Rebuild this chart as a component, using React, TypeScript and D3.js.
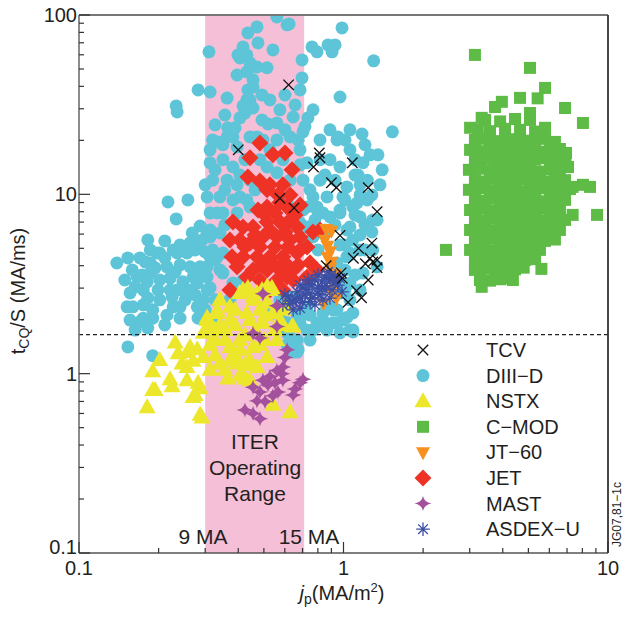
import * as d3 from 'd3'

type Pt = [number, number]

// TCV (black crosses)
const tcv: Pt[] = [
  [0.62, 40.8], [0.4, 17.7], [0.81, 17.0], [0.815, 16.0], [0.77, 14.2], [1.08, 15.0],
  [0.9, 11.6], [0.94, 10.9], [1.24, 10.9], [1.34, 8.0], [0.575, 9.5], [0.65, 8.4],
  [0.97, 5.9], [0.86, 4.0], [0.98, 3.65], [0.99, 3.4], [1.14, 5.0], [1.09, 4.4],
  [1.28, 5.35], [1.26, 4.4], [1.29, 4.2], [1.21, 4.1], [1.34, 3.9], [1.34, 4.3],
  [1.24, 3.33], [1.12, 2.9], [1.17, 2.65], [1.04, 2.5],
]

// DIII-D (cyan circles)
const diiid: Pt[] = [
  // upper sparse part
  [0.31, 62.3], [0.282, 38.2], [0.313, 37.2], [0.233, 31.1], [0.363, 34.4], [0.365, 23.5],
  [0.406, 26.7], [0.431, 33.6], [0.455, 39.7], [0.431, 48.2], [0.396, 46.3], [0.406, 57.6],
  [0.435, 79.4], [0.471, 85.8], [0.475, 69.9], [0.541, 63.9], [0.612, 88.1], [0.697, 56.2],
  [0.697, 44.6], [0.645, 27.0], [0.514, 50.8], [0.471, 51.3], [0.56, 25.0], [0.471, 20.9],
  [0.382, 20.9], [0.335, 19.6], [0.372, 22.3], [0.455, 30.3], [0.76, 66.4], [0.767, 29.6],
  [0.715, 23.9], [0.443, 54.1], [0.417, 31.1], [0.518, 24.7], [0.794, 62.3], [0.874, 68.1],
  [0.929, 68.1], [0.905, 62.3], [0.987, 84.7], [1.3, 55.5], [0.97, 34.9], [0.734, 26.7],
  [0.953, 20.9], [1.013, 20.1], [1.175, 21.7], [1.53, 22.3], [1.26, 16.6], [1.35, 16.6],
  [1.185, 15.0], [1.23, 12.0], [0.674, 20.1], [0.703, 22.3], [0.56, 97.6], [0.417, 66.4],
  [0.623, 89.2], [0.431, 59.9], [0.399, 59.9], [0.455, 43.5], [0.435, 38.2], [0.443, 33.6],
  [0.424, 28.4], [0.235, 28.8],
  [0.327, 24.4], [0.356, 27.7], [0.389, 23.5], [0.492, 26.0], [0.601, 22.9], [0.656, 31.5],
  [0.575, 29.6], [0.527, 33.6], [0.492, 35.8], [0.601, 35.8], [0.685, 38.2], [0.35, 18.9],
  [0.313, 17.7],
  // left cloud
  [0.217, 9.07], [0.258, 9.31], [0.233, 7.29], [0.287, 6.66], [0.268, 6.09], [0.182, 5.57],
  [0.211, 5.5], [0.139, 4.14], [0.159, 3.79], [0.197, 4.71], [0.227, 4.9], [0.256, 4.71],
  [0.275, 4.9], [0.287, 5.43], [0.173, 3.55], [0.186, 3.64], [0.215, 3.94], [0.241, 4.04],
  [0.263, 3.94], [0.221, 3.41], [0.247, 3.25], [0.28, 3.2], [0.156, 2.82], [0.175, 2.93],
  [0.199, 2.93], [0.225, 2.68], [0.256, 2.82], [0.152, 2.36], [0.175, 2.42], [0.19, 2.27],
  [0.215, 2.12], [0.227, 2.36], [0.156, 1.99], [0.175, 2.04], [0.28, 2.36], [0.282, 2.04],
  [0.153, 1.41], [0.19, 1.26], [0.295, 2.58], [0.305, 3.46], [0.305, 2.93], [0.327, 4.31],
  [0.305, 6.09], [0.333, 7.88], [0.292, 5.57], [0.247, 2.93], [0.202, 3.33], [0.166, 3.46],
  [0.181, 3.25], [0.17, 1.95], [0.19, 2.04], [0.241, 2.36], [0.313, 4.47], [0.287, 3.94],
  [0.263, 2.93], [0.235, 2.93], [0.186, 4.14], [0.235, 4.71], [0.202, 4.71], [0.16, 2.36],
  [0.153, 4.42], [0.17, 4.42], [0.186, 4.9], [0.211, 4.42], [0.241, 5.22], [0.263, 5.36],
  [0.3, 4.77], [0.149, 3.33], [0.163, 3.05], [0.182, 2.64], [0.202, 2.58], [0.221, 2.93],
  [0.252, 2.58], [0.275, 2.75], [0.3, 2.27], [0.211, 1.87], [0.241, 2.04], [0.182, 1.8],
  [0.163, 1.75], [0.287, 3.55], [0.231, 3.69], [0.194, 3.89], [0.178, 4.2], [0.27, 3.46],
  [0.313, 3.01], [0.327, 1.99],
  // centre, behind JET
  [0.32, 20.1], [0.363, 20.9], [0.396, 18.4], [0.313, 15.0], [0.35, 15.6], [0.382, 14.2],
  [0.32, 12.0], [0.363, 12.0], [0.396, 11.3], [0.305, 9.67], [0.341, 9.67], [0.382, 9.31],
  [0.431, 9.31], [0.313, 7.88], [0.35, 7.88], [0.396, 7.88], [0.313, 6.33], [0.341, 6.09],
  [0.32, 4.9], [0.35, 4.71], [0.305, 3.94], [0.35, 3.64], [0.443, 20.9], [0.496, 20.1],
  [0.56, 20.1], [0.628, 20.9], [0.514, 14.2], [0.56, 13.2], [0.406, 9.67], [0.685, 17.7],
  [0.728, 15.0], [0.703, 12.0], [0.747, 10.6], [0.767, 9.67], [0.728, 8.51], [0.794, 8.51],
  [0.866, 9.67], [0.836, 7.88], [0.889, 7.48], [0.97, 7.88], [0.995, 9.67], [1.03, 11.0],
  [0.945, 20.1], [0.97, 14.2], [0.815, 12.0], [0.685, 6.93], [0.747, 6.58], [0.945, 4.14],
  [0.794, 3.79], [0.313, 5.79], [0.333, 4.47], [0.341, 3.79], [0.382, 3.2], [0.417, 3.33],
  [0.443, 8.51], [0.612, 8.95], [0.703, 8.18], [0.728, 6.58], [0.767, 5.79], [0.443, 12.0],
  [0.483, 15.6], [0.59, 15.6], [0.685, 14.6], [0.628, 12.0], [0.815, 15.6], [0.889, 15.6],
  [0.851, 12.8], [0.929, 12.0], [0.356, 6.75], [0.327, 2.58], [0.372, 2.58],
  [0.327, 13.7], [0.356, 10.6], [0.406, 12.8], [0.463, 10.6], [0.424, 15.6], [0.527, 17.7],
  [0.3, 11.3],
  // right wing and below the dashed line
  [0.794, 8.18], [0.97, 8.18], [1.125, 8.95], [1.155, 7.48], [1.29, 7.2], [1.34, 3.94],
  [1.03, 6.33], [1.085, 5.57], [1.058, 4.71], [0.97, 3.2], [1.058, 2.58], [1.085, 2.18],
  [1.058, 1.75], [0.945, 1.92], [0.836, 1.99], [0.945, 2.27], [0.889, 2.36], [0.747, 2.12],
  [0.668, 2.12], [0.575, 2.12], [0.541, 2.18], [0.728, 1.75], [0.866, 1.75], [0.97, 1.69],
  [0.668, 1.54], [0.645, 1.32], [1.085, 8.51], [1.23, 9.31], [1.34, 7.2], [1.058, 6.58],
  [1.03, 4.48], [1.185, 3.64], [1.058, 3.2], [0.97, 2.82], [1.03, 2.06], [1.085, 1.75],
  [0.913, 1.92], [0.794, 1.92], [0.685, 2.06], [0.612, 1.92], [0.674, 1.36], [0.866, 2.36],
  [0.612, 1.45], [0.668, 1.32], [0.747, 1.54], [0.612, 1.69], [0.685, 1.92], [0.575, 2.58],
  [0.645, 2.68], [0.728, 2.36], [0.836, 2.18], [0.794, 1.83], [1.085, 1.71], [0.995, 1.99],
  [0.913, 2.27], [0.767, 1.75], [0.628, 1.6], [1.28, 9.93], [1.155, 9.93], [1.374, 11.3],
  [1.155, 11.3], [1.4, 13.7], [1.135, 12.8], [1.206, 18.9], [1.058, 17.7], [1.105, 15.6],
  [1.28, 6.17], [1.155, 5.94], [1.206, 4.9], [1.29, 4.9], [0.97, 5.22], [1.058, 4.59],
  [1.013, 3.79], [1.105, 3.55], [1.155, 2.93], [1.013, 2.93],
  [0.815, 20.1], [0.889, 22.9], [1.058, 22.9], [1.105, 12.8], [1.013, 9.31], [1.105, 7.68],
  [1.206, 6.75], [0.851, 6.33], [0.78, 7.2], [0.929, 6.75], [1.013, 5.22], [1.155, 4.9],
  [0.715, 5.22], [0.801, 4.9],
]

// NSTX (yellow triangles)
const nstx: Pt[] = [
  [0.231, 1.49], [0.202, 1.19], [0.19, 1.03], [0.19, 0.81], [0.181, 0.65], [0.221, 0.93],
  [0.225, 0.85], [0.245, 1.14], [0.27, 1.18], [0.256, 0.92], [0.282, 0.89], [0.27, 0.74],
  [0.287, 0.83], [0.292, 0.57], [0.258, 1.32], [0.256, 1.09], [0.295, 1.24], [0.263, 1.41],
  [0.237, 1.3], [0.28, 1.37], [0.194, 0.81], [0.275, 0.76], [0.287, 0.59], [0.541, 0.67],
  [0.628, 0.61], [0.639, 1.84],
  [0.406, 2.82], [0.372, 2.36], [0.333, 2.25], [0.305, 1.99], [0.295, 1.69], [0.308, 1.8],
  [0.333, 2.18], [0.396, 1.14], [0.341, 1.14], [0.471, 1.09], [0.514, 1.24], [0.56, 1.54],
  [0.455, 1.41], [0.372, 1.41], [0.496, 1.92], [0.431, 2.18], [0.541, 2.18], [0.514, 2.49],
  [0.471, 2.82], [0.536, 3.01], [0.455, 2.68], [0.417, 2.93], [0.514, 3.05], [0.541, 2.93],
  [0.645, 1.83], [0.305, 2.06], [0.327, 1.54], [0.356, 1.75], [0.389, 1.87], [0.424, 1.64],
  [0.463, 1.75], [0.327, 1.27], [0.356, 1.05], [0.406, 0.98], [0.443, 0.92], [0.313, 1.05],
  [0.483, 2.27], [0.59, 2.27], [0.59, 1.87], [0.406, 1.54], [0.372, 1.99], [0.341, 1.87],
  [0.505, 1.54], [0.443, 1.19], [0.389, 1.27], [0.313, 1.45], [0.424, 0.94], [0.365, 0.94],
  [0.356, 1.54], [0.406, 1.36], [0.483, 1.45], [0.443, 1.99], [0.389, 2.27], [0.341, 2.58],
  [0.505, 2.12], [0.575, 1.99], [0.551, 1.75], [0.424, 1.12], [0.372, 1.19], [0.327, 1.75],
  [0.463, 2.58], [0.601, 2.42], [0.492, 2.93], [0.435, 3.01],
]

// C-MOD (green squares)
const cmod: Pt[] = [
  [3.43, 26.0], [3.91, 25.5], [4.45, 26.3], [5.07, 26.0],
  [3.22, 22.9], [3.58, 22.5], [4.08, 23.2], [4.65, 22.9], [5.3, 22.4],
  [3.14, 20.1], [3.43, 20.4], [3.74, 19.8], [4.08, 20.1], [4.45, 20.3], [4.86, 19.9], [5.3, 20.1], [5.78, 20.4], [6.3, 19.6],
  [3.01, 17.7], [3.28, 17.4], [3.58, 17.9], [3.91, 17.7], [4.26, 17.5], [4.65, 17.8], [5.07, 17.7], [5.53, 17.3], [6.04, 17.7], [6.58, 17.9],
  [3.14, 15.6], [3.43, 15.8], [3.74, 15.4], [4.08, 15.6], [4.45, 15.7], [4.86, 15.5], [5.3, 15.6], [5.78, 15.9], [6.3, 15.4], [6.88, 15.6],
  [2.98, 13.7], [3.28, 13.9], [3.58, 13.6], [3.91, 13.7], [4.26, 13.5], [4.65, 13.8], [5.07, 13.7], [5.53, 13.4], [6.04, 13.8], [6.58, 13.7],
  [3.14, 12.0], [3.43, 11.8], [3.74, 12.2], [4.08, 12.0], [4.45, 11.9], [4.86, 12.1], [5.3, 12.0], [5.78, 11.8], [6.3, 12.1], [6.88, 12.0],
  [2.98, 10.6], [3.28, 10.8], [3.58, 10.5], [3.91, 10.6], [4.26, 10.7], [4.65, 10.4], [5.07, 10.6], [5.53, 10.8], [6.04, 10.5], [6.58, 10.6], [7.18, 10.7],
  [3.14, 9.31], [3.43, 9.2], [3.74, 9.45], [4.08, 9.31], [4.45, 9.2], [4.86, 9.4], [5.3, 9.31], [5.78, 9.15], [6.3, 9.4], [6.88, 9.31],
  [3.01, 8.18], [3.28, 8.3], [3.58, 8.1], [3.91, 8.18], [4.26, 8.25], [4.65, 8.1], [5.07, 8.18], [5.53, 8.3], [6.04, 8.1], [6.58, 8.18],
  [3.14, 7.2], [3.43, 7.1], [3.74, 7.3], [4.08, 7.2], [4.45, 7.1], [4.86, 7.25], [5.3, 7.2], [5.78, 7.1], [6.3, 7.3], [6.88, 7.2],
  [3.01, 6.33], [3.28, 6.4], [3.58, 6.25], [3.91, 6.33], [4.26, 6.4], [4.65, 6.25], [5.07, 6.33], [5.53, 6.4], [6.04, 6.3], [6.58, 6.33],
  [3.14, 5.57], [3.43, 5.5], [3.74, 5.65], [4.08, 5.57], [4.45, 5.5], [4.86, 5.6], [5.3, 5.57], [5.78, 5.5], [6.3, 5.6],
  [3.01, 4.9], [3.28, 4.95], [3.58, 4.85], [3.91, 4.9], [4.26, 4.95], [4.65, 4.85], [5.07, 4.9], [5.53, 4.9],
  [3.14, 4.31], [3.43, 4.25], [3.74, 4.35], [4.08, 4.31], [4.45, 4.25], [4.86, 4.31], [5.3, 4.35],
  [3.14, 3.79], [3.43, 3.85], [3.74, 3.75], [4.08, 3.79], [4.45, 3.82], [4.8, 3.9],
  [3.28, 3.33], [3.58, 3.3], [3.91, 3.36], [4.2, 3.4],
  // outliers
  [3.14, 59.9], [5.07, 50.7], [5.78, 39.2], [4.65, 34.5], [5.42, 34.3], [3.97, 32.8],
  [3.74, 30.7], [5.07, 28.4], [6.88, 30.3], [8.04, 25.0], [3.33, 26.7], [3.01, 23.5],
  [5.78, 23.5], [6.14, 18.4], [6.94, 17.0], [7.06, 14.2], [8.04, 11.3], [8.55, 11.0],
  [9.09, 7.68], [7.35, 7.68], [2.44, 4.9], [5.6, 3.84], [5.14, 4.48], [4.37, 3.33],
  [3.33, 3.05], [7.35, 11.0], [6.9, 14.6],
]

// JT-60 (orange down triangles)
const jt60: Pt[] = [
  [0.86, 6.4], [0.9, 6.25], [0.85, 5.57], [0.87, 5.15], [0.89, 4.8], [0.87, 4.47],
  [0.9, 4.2], [0.89, 3.89], [0.93, 3.6], [0.91, 3.25], [0.9, 2.86], [0.94, 2.64], [0.84, 2.46],
]

// JET (red diamonds)
const jet: Pt[] = [
  [0.483, 19.3], [0.443, 16.0], [0.541, 16.6], [0.601, 17.0], [0.639, 13.7], [0.435, 12.5],
  [0.483, 11.85], [0.527, 11.3], [0.59, 11.3], [0.565, 9.93], [0.628, 9.93], [0.514, 10.6],
  [0.475, 8.18], [0.514, 8.5], [0.575, 9.0], [0.612, 8.5], [0.382, 7.0], [0.417, 6.58],
  [0.455, 6.58], [0.514, 7.0], [0.575, 7.0], [0.612, 6.93], [0.668, 6.58], [0.372, 5.57],
  [0.406, 5.57], [0.443, 5.36], [0.496, 5.79], [0.56, 5.79], [0.628, 5.57], [0.685, 5.79],
  [0.767, 6.17], [0.815, 6.33], [0.379, 4.48], [0.417, 4.48], [0.471, 4.48], [0.527, 4.48],
  [0.59, 4.48], [0.668, 4.71], [0.728, 5.09], [0.685, 4.9], [0.396, 3.94], [0.455, 3.79],
  [0.514, 3.79], [0.575, 3.79], [0.645, 3.79], [0.747, 4.15], [0.794, 3.79], [0.728, 3.46],
  [0.431, 3.46], [0.483, 3.33], [0.56, 3.33], [0.645, 3.33], [0.612, 3.46], [0.372, 2.93],
  [0.424, 5.09], [0.483, 5.09], [0.551, 5.09], [0.617, 5.09], [0.492, 4.04], [0.536, 4.15],
  [0.601, 4.15], [0.674, 4.04], [0.527, 2.93], [0.59, 2.93], [0.505, 7.68], [0.551, 7.88],
  [0.463, 5.94], [0.527, 6.33], [0.601, 6.17], [0.656, 7.68], [0.685, 8.73],
]

// MAST (purple four-point stars)
const mast: Pt[] = [
  [0.496, 2.79], [0.56, 2.39], [0.455, 1.68], [0.483, 1.58], [0.612, 1.36], [0.601, 1.23],
  [0.59, 1.09], [0.56, 1.04], [0.527, 0.965], [0.496, 0.92], [0.551, 0.89], [0.59, 0.92],
  [0.703, 0.93], [0.518, 0.865], [0.455, 0.84], [0.483, 0.79], [0.656, 0.82], [0.541, 0.752],
  [0.645, 0.761], [0.471, 0.705], [0.505, 0.7], [0.565, 0.79], [0.424, 0.628], [0.455, 0.6],
  [0.483, 0.56], [0.56, 1.83], [0.685, 0.89], [0.585, 1.0],
]

// ASDEX-U (blue asterisks)
const asdex: Pt[] = [
  [0.59, 2.42], [0.628, 2.46], [0.617, 2.68], [0.656, 2.58], [0.685, 2.64], [0.668, 2.86],
  [0.715, 2.75], [0.747, 2.81], [0.703, 3.01], [0.76, 3.12], [0.801, 3.01], [0.78, 3.33],
  [0.829, 3.25], [0.851, 3.46], [0.889, 3.33], [0.874, 3.7], [0.929, 3.5], [0.815, 2.75],
  [0.851, 2.93], [0.905, 2.93], [0.953, 3.12], [0.685, 2.32], [0.747, 2.52], [0.645, 2.27],
  [0.97, 3.4], [0.601, 2.75], [0.734, 3.33], [0.801, 3.55], [0.685, 3.12], [0.889, 2.64],
  [0.78, 2.42], [0.987, 2.86], [0.836, 2.58], [0.72, 2.95], [0.76, 2.65], [0.8, 2.8],
  [0.86, 3.1], [0.92, 3.2], [0.7, 2.5], [0.74, 3.15], [0.83, 3.0], [0.9, 3.55], [0.64, 2.55],
]

const legendNames = ['TCV', 'DIII−D', 'NSTX', 'C−MOD', 'JT−60', 'JET', 'MAST', 'ASDEX−U']
const iterBand: [number, number] = [0.3, 0.71]
const threshold = 1.65
const xTickLabels = ['0.1', '1', '10']
const yTickLabels = ['0.1', '1', '10', '100']

const COL = {
  tcv: '#111',
  diiid: '#5ec5d8',
  nstx: '#ece72a',
  cmod: '#5dbb46',
  jt60: '#f7901e',
  jet: '#ee3326',
  mast: '#a4519d',
  asdex: '#3b4ea3',
}

const tri = (w: number, h: number) => `M0,${-h * 0.6}L${w / 2},${h * 0.4}L${-w / 2},${h * 0.4}Z`
const triDown = (w: number, h: number) => `M0,${h * 0.6}L${w / 2},${-h * 0.4}L${-w / 2},${-h * 0.4}Z`
const diamond = (s: number) => `M0,${-s}L${s},0L0,${s}L${-s},0Z`
const square = (s: number) => `M${-s / 2},${-s / 2}h${s}v${s}h${-s}Z`
const star4 = (rx: number, ry: number) => {
  const k = Math.min(rx, ry) * 0.16
  return `M0,${-ry}Q${k},${-k} ${rx},0Q${k},${k} 0,${ry}Q${-k},${k} ${-rx},0Q${-k},${-k} 0,${-ry}Z`
}
const cross = (s: number) => `M${-s},${-s}L${s},${s}M${s},${-s}L${-s},${s}`
const asterisk = (s: number) => {
  const d = s * 0.707
  return `M0,${-s}V${s}M${-s},0H${s}M${-d},${-d}L${d},${d}M${d},${-d}L${-d},${d}`
}

type MarkStyle = { d: string; fill: string; stroke: string; sw: number }

const marks: MarkStyle[] = [
  { d: cross(5.2), fill: 'none', stroke: COL.tcv, sw: 1.3 },
  { d: 'M-6.5,0a6.5,6.5 0 1,0 13,0a6.5,6.5 0 1,0 -13,0Z', fill: COL.diiid, stroke: 'none', sw: 0 },
  { d: tri(17, 15), fill: COL.nstx, stroke: 'none', sw: 0 },
  { d: square(12), fill: COL.cmod, stroke: 'none', sw: 0 },
  { d: triDown(14, 13), fill: COL.jt60, stroke: 'none', sw: 0 },
  { d: diamond(8.5), fill: COL.jet, stroke: 'none', sw: 0 },
  { d: star4(8.5, 7.5), fill: COL.mast, stroke: 'none', sw: 0 },
  { d: asterisk(6.8), fill: 'none', stroke: COL.asdex, sw: 1.3 },
]

const FONT = '"Liberation Sans", Arial, Helvetica, sans-serif'
const TXT = '#231f20'

export default function App() {
  const W = 623
  const H = 617
  const x = d3.scaleLog().domain([0.1, 10]).range([79, 608])
  const y = d3.scaleLog().domain([0.1, 100]).range([553, 15])
  const [x0, x1] = x.range()
  const [y0, y1] = y.range()

  const xMinor = x.ticks().filter((v) => !xTickLabels.includes(String(v)))
  const yMinor = y.ticks().filter((v) => !yTickLabels.includes(String(v)))

  // draw order: DIII-D, C-MOD, JET, NSTX, JT-60, ASDEX-U, MAST, TCV
  const layers: [Pt[], MarkStyle][] = [
    [diiid, marks[1]],
    [cmod, marks[3]],
    [jet, marks[5]],
    [nstx, marks[2]],
    [jt60, marks[4]],
    [asdex, marks[7]],
    [mast, marks[6]],
    [tcv, marks[0]],
  ]

  const legX = 423
  const legTextX = 486
  const legY0 = 350
  const legDy = 25.6

  return (
    <svg
      width={W}
      height={H}
      style={{ position: 'absolute', left: 0, top: 0, background: '#fff' }}
      fontFamily={FONT}
    >
      <defs>
        <clipPath id="plot">
          <rect x={x0} y={y1} width={x1 - x0} height={y0 - y1} />
        </clipPath>
      </defs>

      {/* ITER operating range */}
      <rect
        x={x(iterBand[0])}
        y={y1}
        width={x(iterBand[1]) - x(iterBand[0])}
        height={y0 - y1}
        fill="#f5bfd7"
      />

      <g clipPath="url(#plot)">
        {layers.map(([data, m], li) => (
          <g key={li}>
            {data.map(([a, b], i) => (
              <path
                key={i}
                d={m.d}
                transform={`translate(${x(a)},${y(b)})`}
                fill={m.fill}
                stroke={m.stroke}
                strokeWidth={m.sw}
              />
            ))}
          </g>
        ))}
      </g>

      {/* threshold line */}
      <line
        x1={x0}
        x2={x1}
        y1={y(threshold)}
        y2={y(threshold)}
        stroke="#222"
        strokeWidth={1.3}
        strokeDasharray="4,3"
      />

      {/* frame */}
      <line x1={x0} x2={x1} y1={y1} y2={y1} stroke="#777" strokeWidth={2} />
      <line x1={x0} x2={x1} y1={y0} y2={y0} stroke="#555" strokeWidth={1.5} />
      <line x1={x0} x2={x0} y1={y1} y2={y0} stroke="#666" strokeWidth={1.5} />
      <line x1={x1} x2={x1} y1={y1} y2={y0} stroke="#333" strokeWidth={1.8} />

      {/* ticks */}
      {xTickLabels.map((t) => (
        <line key={'xM' + t} x1={x(+t)} x2={x(+t)} y1={y0} y2={y0 - 11} stroke="#333" strokeWidth={1.2} />
      ))}
      {xMinor.map((v) => (
        <line key={'xm' + v} x1={x(v)} x2={x(v)} y1={y0} y2={y0 - 5} stroke="#333" strokeWidth={1.2} />
      ))}
      {yTickLabels.map((t) => (
        <line key={'yM' + t} x1={x0} x2={x0 + 11} y1={y(+t)} y2={y(+t)} stroke="#333" strokeWidth={1.2} />
      ))}
      {yMinor.map((v) => (
        <line key={'ym' + v} x1={x0} x2={x0 + 5} y1={y(v)} y2={y(v)} stroke="#333" strokeWidth={1.2} />
      ))}

      {/* tick labels */}
      {xTickLabels.map((t) => (
        <text key={'xl' + t} x={x(+t)} y={575} fontSize={20} textAnchor="middle" fill={TXT}>
          {t}
        </text>
      ))}
      {yTickLabels.map((t, i) => (
        <text
          key={'yl' + t}
          x={77}
          y={i === 0 ? y(+t) + 1 : y(+t) + 7}
          fontSize={20}
          textAnchor="end"
          fill={TXT}
        >
          {t}
        </text>
      ))}

      {/* axis titles */}
      <text x={342} y={600} fontSize={20} textAnchor="middle" fill={TXT}>
        <tspan fontStyle="italic">j</tspan>
        <tspan fontSize={14} dy={4}>p</tspan>
        <tspan dy={-4}>(MA/m</tspan>
        <tspan fontSize={13} dy={-8}>2</tspan>
        <tspan dy={8}>)</tspan>
      </text>
      <text transform="translate(25,291) rotate(-90)" fontSize={20} textAnchor="middle" fill={TXT}>
        <tspan>t</tspan>
        <tspan fontSize={14} dy={4}>CQ</tspan>
        <tspan dy={-4}>/S (MA/ms)</tspan>
      </text>

      {/* ITER annotation */}
      <g fontSize={21} fill={TXT} textAnchor="middle">
        <text x={255} y={449}>ITER</text>
        <text x={255} y={475}>Operating</text>
        <text x={255} y={501}>Range</text>
        <text x={203} y={544}>9 MA</text>
        <text x={309} y={544}>15 MA</text>
      </g>

      {/* legend */}
      {legendNames.map((name, i) => {
        const ly = legY0 + i * legDy
        const m = marks[i]
        return (
          <g key={name}>
            <path
              d={m.d}
              transform={`translate(${legX},${ly})`}
              fill={m.fill}
              stroke={m.stroke}
              strokeWidth={m.sw}
            />
            <text x={legTextX} y={ly + 7} fontSize={20} fill={TXT}>
              {name}
            </text>
          </g>
        )
      })}

      <text transform="translate(621,547) rotate(-90)" fontSize={12} fill={TXT}>
        JG07,81−1c
      </text>
    </svg>
  )
}
